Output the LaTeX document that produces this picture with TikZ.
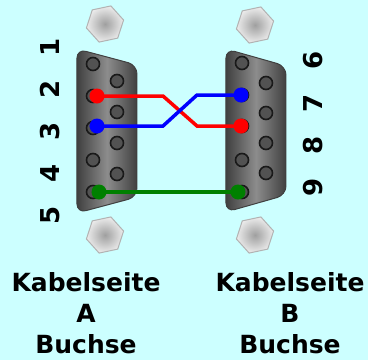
\documentclass[tikz,border=0pt]{standalone}
\usepackage{fontspec}
\setmainfont{DejaVu Sans}
\usetikzlibrary{shapes.geometric}

\definecolor{bgcyan}{RGB}{204,255,255}
\definecolor{wirered}{RGB}{255,0,0}
\definecolor{wireblue}{RGB}{0,0,255}
\definecolor{wiregreen}{RGB}{0,128,0}

\tikzset{
  hole/.style={circle,draw=black!90,fill=black!68,line width=1.6pt,minimum size=13pt,inner sep=0pt},
  solder/.style={circle,minimum size=15pt,inner sep=0pt},
  wire/.style={line width=3.5pt,line join=miter},
  screw/.style={regular polygon,regular polygon sides=6,minimum size=38pt,inner sep=0pt,
    shape border rotate=12,draw=gray!60,line width=1pt,shading=radial,inner color=gray!75,outer color=gray!15},
  plug/.style={rounded corners=9pt,draw=black!75,line width=1pt,left color=black!75,right color=black!75,middle color=black!45},
  pinlabel/.style={rotate=90,font=\fontsize{26}{26}\selectfont\bfseries,inner sep=0pt},
  caption/.style={align=center,font=\fontsize{25}{31}\selectfont\bfseries,inner sep=0pt}
}

\begin{document}
\begin{tikzpicture}[x=1pt,y=-1pt]
\useasboundingbox[fill=bgcyan] (0,0) rectangle (368,360);

% screws
\node[screw] (sat) at (105,24) {};
\node[screw] (sab) at (105,235) {};
\node[screw] (sbt) at (255,25) {};
\node[screw] (sbb) at (255,235) {};

% connector bodies
\shade[plug] (77,49) -- (137,65) -- (137,197) -- (77,213) -- cycle;
\shade[plug] (226,49) -- (286,66) -- (286,195) -- (226,212) -- cycle;

% holes side A
\foreach \i/\y in {1/64,2/96,3/128,4/160,5/192}
  \node[hole] (a\i) at (93,\y) {};
\foreach \i/\y in {6/81,7/112,8/143,9/174}
  \node[hole] (a\i) at (117,\y) {};
% holes side B
\foreach \i/\y in {1/63,2/95,3/126,4/160,5/192}
  \node[hole] (b\i) at (242,\y) {};
\foreach \i/\y in {6/83,7/113,8/143,9/173}
  \node[hole] (b\i) at (266,\y) {};

% pin numbers
\foreach \i/\y in {1/47,2/89,3/131,4/173,5/215}
  \node[pinlabel] (la\i) at (50,\y) {\i};
\foreach \i/\y in {6/60,7/103,8/145,9/187}
  \node[pinlabel] (lb\i) at (313,\y) {\i};

% wires
\node[solder,fill=wirered] (ra) at (97,96) {};
\node[solder,fill=wireblue] (ba) at (97,126) {};
\node[solder,fill=wiregreen] (ga) at (99,192) {};
\node[solder,fill=wirered] (rb) at (241,126) {};
\node[solder,fill=wireblue] (bb) at (241,95) {};
\node[solder,fill=wiregreen] (gb) at (238,192) {};
\draw[wire,wirered] (ra.center) -- ++(66,0) -- ++(34,30) -- (rb.center);
\draw[wire,wireblue] (ba.center) -- ++(66,0) -- ++(34,-31) -- (bb.center);
\draw[wire,wiregreen] (ga.center) -- (gb.center);

% captions
\node[caption] (capa) at (86,313) {Kabelseite\\A\\Buchse};
\node[caption] (capb) at (290,313) {Kabelseite\\B\\Buchse};
\end{tikzpicture}
\end{document}
